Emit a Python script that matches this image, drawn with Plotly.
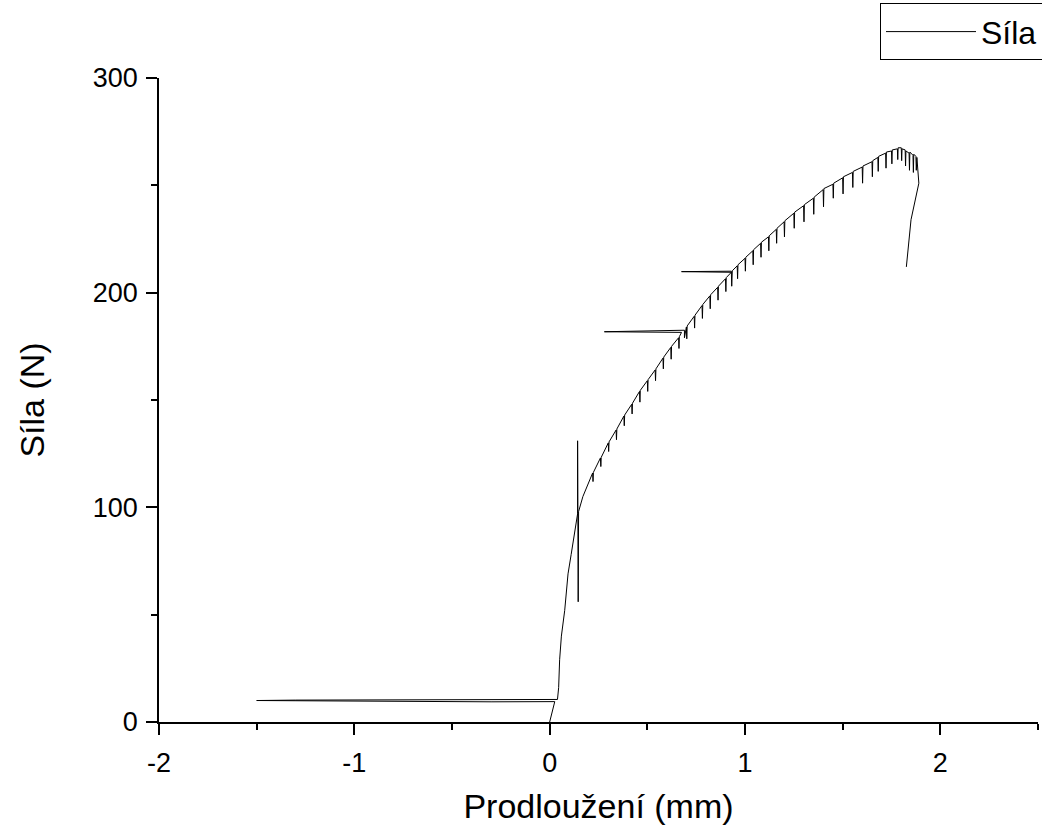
import plotly.graph_objects as go

# Prodloužení (mm) and Síla (N)
X_MM = [
    0.000, 0.012, 0.026, -0.300, -1.500, -1.300, 0.040, 0.046, 0.051, 0.060,
    0.077, 0.094, 0.110, 0.125, 0.143, 0.143, 0.146, 0.146, 0.148, 0.170, 0.200,
    0.220, 0.222, 0.224, 0.260, 0.262, 0.264, 0.300, 0.302, 0.304,
    0.340, 0.342, 0.344, 0.380, 0.382, 0.384, 0.420, 0.422, 0.424,
    0.460, 0.462, 0.464, 0.500, 0.502, 0.504, 0.540, 0.542, 0.544,
    0.580, 0.582, 0.584, 0.620, 0.622, 0.624, 0.660, 0.662, 0.664,
    0.675, 0.280, 0.690, 0.690, 0.695,
    0.700, 0.702, 0.704, 0.740, 0.742, 0.744, 0.780, 0.782, 0.784,
    0.820, 0.822, 0.824, 0.860, 0.862, 0.864, 0.900, 0.902, 0.904,
    0.930, 0.675, 0.930, 0.932, 0.935,
    0.960, 0.962, 0.964, 1.000, 1.002, 1.004, 1.040, 1.042, 1.044,
    1.080, 1.082, 1.084, 1.120, 1.122, 1.124, 1.160, 1.162, 1.164,
    1.200, 1.202, 1.204, 1.250, 1.252, 1.254, 1.300, 1.302, 1.304,
    1.350, 1.352, 1.354, 1.400, 1.402, 1.404, 1.450, 1.452, 1.454,
    1.500, 1.502, 1.504, 1.550, 1.552, 1.554, 1.600, 1.602, 1.604,
    1.650, 1.652, 1.654, 1.680, 1.682, 1.684, 1.720, 1.722, 1.724,
    1.750, 1.752, 1.754, 1.780, 1.782, 1.784, 1.800, 1.802, 1.804,
    1.820, 1.822, 1.824, 1.840, 1.842, 1.844, 1.860, 1.862, 1.864,
    1.875, 1.877, 1.880, 1.890, 1.850, 1.826,
]
Y_N = [
    0.0, 4.0, 9.5, 9.4, 10.0, 10.2, 10.5, 16.0, 29.0, 40.0,
    52.0, 69.0, 78.0, 87.0, 97.0, 131.0, 56.0, 76.0, 98.0, 105.0, 112.0,
    116.0, 112.0, 116.3, 123.0, 119.0, 123.3, 130.0, 126.0, 130.5,
    136.0, 131.5, 136.5, 142.5, 138.0, 143.0, 148.0, 143.5, 148.5,
    154.0, 149.0, 154.5, 159.0, 154.0, 159.5, 164.0, 159.0, 164.5,
    169.5, 164.5, 170.0, 174.5, 169.0, 175.0, 179.0, 174.0, 179.5,
    181.5, 181.8, 182.5, 179.0, 183.0,
    184.0, 178.5, 184.5, 189.0, 183.5, 189.5, 194.0, 188.0, 194.5,
    198.5, 192.5, 199.0, 202.5, 196.5, 203.0, 206.5, 200.5, 207.0,
    209.5, 209.8, 210.0, 203.0, 210.2,
    212.5, 206.5, 213.0, 216.0, 210.0, 216.5, 219.5, 213.0, 220.0,
    223.0, 216.5, 223.5, 226.0, 219.5, 226.5, 229.5, 223.0, 230.0,
    233.0, 226.0, 233.5, 237.0, 230.0, 237.5, 240.5, 233.0, 241.0,
    244.0, 236.5, 244.5, 248.0, 240.0, 248.5, 250.5, 244.0, 251.0,
    253.5, 246.0, 254.0, 256.0, 249.0, 256.5, 258.5, 251.0, 259.0,
    261.0, 254.0, 261.5, 263.0, 256.5, 263.5, 265.0, 258.0, 265.5,
    266.0, 260.0, 266.5, 267.0, 262.0, 267.5, 267.5, 261.5, 267.0,
    266.5, 259.0, 266.0, 265.0, 257.0, 265.5, 264.0, 256.0, 264.5,
    263.5, 257.0, 263.0, 251.0, 234.0, 212.0,
]

X_TICKS = [-2, -1, 0, 1, 2]
Y_TICKS = [0, 100, 200, 300]

FONT = "Liberation Sans, Arial, sans-serif"

fig = go.Figure()
fig.add_trace(go.Scatter(
    x=X_MM, y=Y_N, mode="lines", name="Síla",
    line=dict(color="black", width=1),
))

fig.update_layout(
    width=1042, height=830,
    margin=dict(l=159, r=4, t=78, b=108, autoexpand=False),
    paper_bgcolor="white", plot_bgcolor="white",
    font=dict(family=FONT, color="black", size=32),
    showlegend=True,
    legend=dict(
        x=1.0057, xanchor="right", y=1.116, yanchor="top",
        bordercolor="black", borderwidth=1, bgcolor="white",
        font=dict(size=32, family=FONT, color="black"),
        itemwidth=90,
    ),
)

fig.update_xaxes(
    range=[-2, 2.5], tickvals=X_TICKS, ticktext=[str(v) for v in X_TICKS],
    tickfont=dict(size=27, family=FONT),
    showline=True, linecolor="black", linewidth=1.5,
    ticks="outside", ticklen=11, tickwidth=1.5, tickcolor="black",
    minor=dict(ticks="outside", ticklen=6, dtick=0.5, tick0=0,
               tickwidth=1.5, tickcolor="black", showgrid=False),
    showgrid=False, zeroline=False, mirror=False, automargin=False,
    ticklabelstandoff=5,
    title=dict(text="Prodloužení (mm)", font=dict(size=34, family=FONT),
               standoff=17),
)
fig.update_yaxes(
    range=[0, 300], tickvals=Y_TICKS, ticktext=[str(v) for v in Y_TICKS],
    tickfont=dict(size=27, family=FONT),
    showline=True, linecolor="black", linewidth=1.5,
    ticks="outside", ticklen=11, tickwidth=1.5, tickcolor="black",
    minor=dict(ticks="outside", ticklen=6, dtick=50, tick0=0,
               tickwidth=1.5, tickcolor="black", showgrid=False),
    showgrid=False, zeroline=False, mirror=False, automargin=False,
    ticklabelstandoff=3,
    title=dict(text="Síla (N)", font=dict(size=34, family=FONT),
               standoff=38),
)

fig.write_html(
    "out.html",
    config={"displayModeBar": False},
    post_script="document.body.style.margin='0';document.body.style.overflow='hidden';",
)
